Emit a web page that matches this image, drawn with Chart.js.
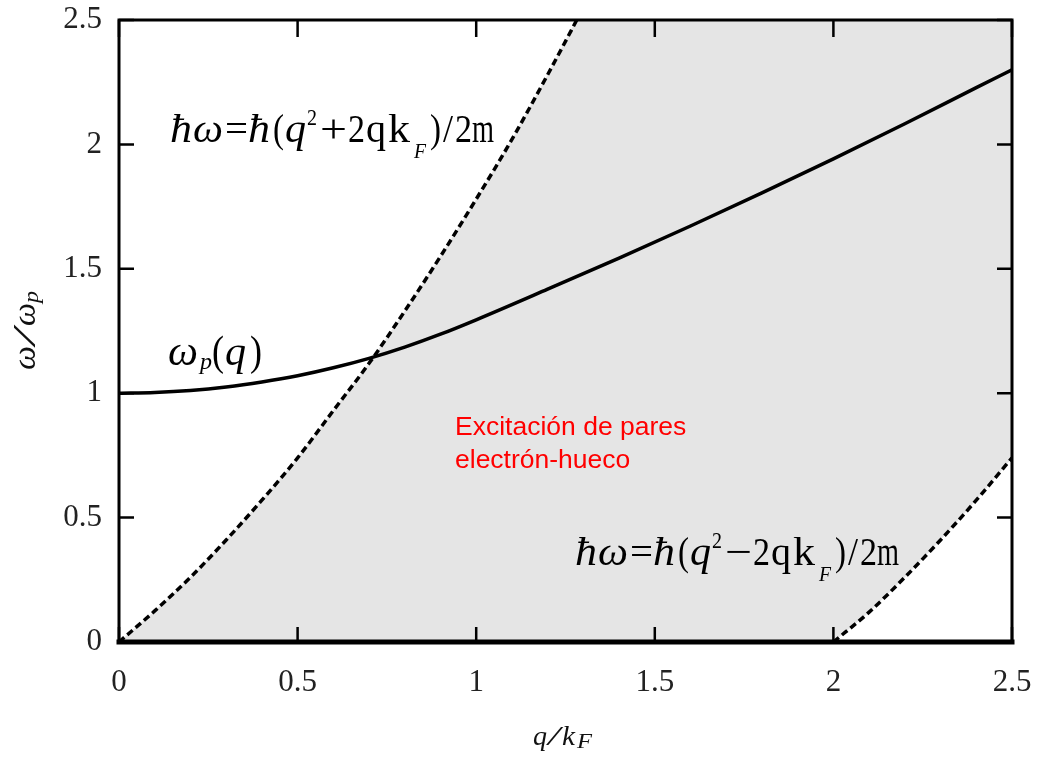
<!DOCTYPE html>
<html>
<head>
<meta charset="utf-8">
<script src="https://cdn.jsdelivr.net/npm/chart.js@4/dist/chart.umd.min.js"></script>
<style>
  html, body { margin: 0; padding: 0; background: #fff; }
  #wrap { width: 1037px; height: 762px; }
</style>
</head>
<body>
<div id="wrap"><canvas id="c"></canvas></div>
<script>
// Pair-excitation boundary ħω = ħ(q² + 2qk_F)/2m
const upperQ = [0, 0.1, 0.2, 0.3, 0.4, 0.5, 0.6, 0.7, 0.8, 0.9, 1.0, 1.1, 1.2, 1.3];
const upperW = [0, 0.125, 0.26, 0.41, 0.57, 0.74, 0.93, 1.12, 1.33, 1.55, 1.78, 2.02, 2.28, 2.55];

// Pair-excitation boundary ħω = ħ(q² − 2qk_F)/2m
const lowerQ = [2.0, 2.1, 2.2, 2.3, 2.4, 2.5];
const lowerW = [0, 0.12, 0.26, 0.41, 0.57, 0.74];

// Plasmon dispersion ω_p(q)
const plasmonQ = [0, 0.1, 0.2, 0.3, 0.4, 0.5, 0.6, 0.7, 0.8, 0.9, 1.0, 1.2, 1.4, 1.6, 1.8, 2.0, 2.2, 2.4, 2.5];
const plasmonW = [1.0, 1.003, 1.011, 1.025, 1.045, 1.070, 1.102, 1.140, 1.185, 1.237, 1.295, 1.418, 1.543, 1.672, 1.805, 1.942, 2.083, 2.228, 2.30];

// Electron-hole continuum (shaded band), top and bottom edges on one grid
const shadeQ      = [0, 0.1, 0.2, 0.3, 0.4, 0.5, 0.6, 0.7, 0.8, 0.9, 1.0, 1.1, 1.2, 1.28, 1.5, 2.0, 2.1, 2.2, 2.3, 2.4, 2.5];
const shadeTop    = [0, 0.125, 0.26, 0.41, 0.57, 0.74, 0.93, 1.12, 1.33, 1.55, 1.78, 2.02, 2.28, 2.5, 2.5, 2.5, 2.5, 2.5, 2.5, 2.5, 2.5];
const shadeBottom = [0, 0, 0, 0, 0, 0, 0, 0, 0, 0, 0, 0, 0, 0, 0, 0, 0.12, 0.26, 0.41, 0.57, 0.74];

// Axis ticks
const xTickLabels = ['0', '0.5', '1', '1.5', '2', '2.5'];
const yTickLabels = ['0', '0.5', '1', '1.5', '2', '2.5'];

const pts = (xs, ys) => xs.map((x, i) => ({ x, y: ys[i] }));

const SERIF = '"Liberation Serif", "Times New Roman", serif';

// Draw a row of glyph runs, each squeezed to its own width
function drawRuns(ctx, ox, oy, runs, baseSize) {
  ctx.textBaseline = 'alphabetic';
  ctx.textAlign = 'left';
  for (const r of runs) {
    const size = r.size || baseSize;
    ctx.font = (r.it ? 'italic ' : '') + size + 'px ' + SERIF;
    const m = ctx.measureText(r.t).width;
    const sx = r.w ? r.w / m : 1;
    ctx.save();
    ctx.translate(ox + r.x, oy + (r.dy || 0));
    ctx.scale(sx, 1);
    ctx.fillText(r.t, 0, 0);
    ctx.restore();
  }
}

function eqRuns(sign) {
  return [
    { t: 'ħ', x: 0, w: 22, it: true },
    { t: 'ω', x: 23, w: 30, it: true },
    { t: '=', x: 55, w: 23 },
    { t: 'ħ', x: 78, w: 22, it: true },
    { t: '(', x: 103, w: 11 },
    { t: 'q', x: 115, w: 21, it: true },
    { t: '2', x: 137, w: 10, size: 24, dy: -17 },
    { t: sign, x: 150, w: 27 },
    { t: '2', x: 178, w: 17 },
    { t: 'q', x: 196, w: 20 },
    { t: 'k', x: 218, w: 22 },
    { t: 'F', x: 244, w: 12, size: 20, dy: 16, it: true },
    { t: ')', x: 260, w: 11 },
    { t: '/', x: 273, w: 10 },
    { t: '2', x: 285, w: 17 },
    { t: 'm', x: 302, w: 22 }
  ];
}

const framePlugin = {
  id: 'frame',
  afterDatasetsDraw(chart) {
    const { ctx, chartArea: a, scales: { x, y } } = chart;
    ctx.save();
    ctx.strokeStyle = '#000';
    ctx.lineWidth = 2.5;
    const tl = 15;
    ctx.beginPath();
    x.ticks.forEach(t => {
      const px = x.getPixelForValue(t.value);
      ctx.moveTo(px, a.bottom); ctx.lineTo(px, a.bottom - tl);
      ctx.moveTo(px, a.top); ctx.lineTo(px, a.top + tl + 2);
    });
    y.ticks.forEach(t => {
      const py = y.getPixelForValue(t.value);
      ctx.moveTo(a.left, py); ctx.lineTo(a.left + tl, py);
      ctx.moveTo(a.right, py); ctx.lineTo(a.right - tl, py);
    });
    ctx.stroke();
    // frame
    ctx.lineCap = 'square';
    ctx.lineWidth = 3;
    ctx.beginPath();
    ctx.moveTo(a.left, a.top); ctx.lineTo(a.right, a.top);
    ctx.moveTo(a.left, a.top); ctx.lineTo(a.left, a.bottom);
    ctx.moveTo(a.right, a.top); ctx.lineTo(a.right, a.bottom);
    ctx.stroke();
    ctx.lineWidth = 5;
    ctx.beginPath();
    ctx.moveTo(a.left, a.bottom); ctx.lineTo(a.right, a.bottom);
    ctx.stroke();
    ctx.restore();
  },
  afterDraw(chart) {
    const { ctx } = chart;
    ctx.save();
    ctx.fillStyle = '#000';
    drawRuns(ctx, 170, 142, eqRuns('+'), 40);
    drawRuns(ctx, 575, 565, eqRuns('−'), 40);
    drawRuns(ctx, 168, 365, [
      { t: 'ω', x: 0, w: 30, it: true },
      { t: 'p', x: 32, w: 12, it: true, size: 24, dy: 4 },
      { t: '(', x: 44, w: 12 },
      { t: 'q', x: 57, w: 21, it: true },
      { t: ')', x: 82, w: 12 }
    ], 42);

    // continuum label
    ctx.fillStyle = '#ff0000';
    ctx.font = '26.5px "Liberation Sans", Arial, sans-serif';
    ctx.textBaseline = 'alphabetic';
    ctx.textAlign = 'left';
    ctx.fillText('Excitación de pares', 455, 435);
    ctx.fillText('electrón-hueco', 455, 468);

    // axis titles
    ctx.fillStyle = '#111';
    drawRuns(ctx, 533, 745, [
      { t: 'q', x: 0, w: 14, it: true },
      { t: '/', x: 15, w: 12, it: true },
      { t: 'k', x: 29, w: 13, it: true },
      { t: 'F', x: 44, w: 15, it: true, size: 20, dy: 3 }
    ], 28);
    ctx.save();
    ctx.translate(35, 370);
    ctx.rotate(-Math.PI / 2);
    drawRuns(ctx, 0, 0, [
      { t: 'ω', x: 0, w: 24, it: true },
      { t: '/', x: 25, w: 16, it: true },
      { t: 'ω', x: 44, w: 23, it: true },
      { t: 'p', x: 67, w: 12, it: true, size: 22, dy: 3 }
    ], 32);
    ctx.restore();
    ctx.restore();
  }
};

new Chart(document.getElementById('c'), {
  type: 'line',
  data: {
    datasets: [
      {
        data: pts(shadeQ, shadeTop),
        borderWidth: 0, borderColor: 'rgba(0,0,0,0)',
        backgroundColor: '#e5e5e5',
        fill: '+1', pointRadius: 0, tension: 0
      },
      {
        data: pts(shadeQ, shadeBottom),
        borderWidth: 0, borderColor: 'rgba(0,0,0,0)',
        fill: false, pointRadius: 0, tension: 0
      },
      {
        data: pts(upperQ, upperW),
        borderColor: '#000', borderWidth: 3.5, borderDash: [7, 4],
        fill: false, pointRadius: 0, cubicInterpolationMode: 'monotone'
      },
      {
        data: pts(lowerQ, lowerW),
        borderColor: '#000', borderWidth: 3.5, borderDash: [7, 4],
        fill: false, pointRadius: 0, cubicInterpolationMode: 'monotone'
      },
      {
        data: pts(plasmonQ, plasmonW),
        borderColor: '#000', borderWidth: 3.5,
        fill: false, pointRadius: 0, cubicInterpolationMode: 'monotone'
      }
    ]
  },
  options: {
    responsive: true,
    maintainAspectRatio: false,
    animation: false,
    devicePixelRatio: 1,
    layout: { padding: { top: 20, right: 25, left: 0, bottom: 0 } },
    plugins: {
      legend: { display: false },
      tooltip: { enabled: false },
      filler: { drawTime: 'beforeDatasetsDraw' }
    },
    scales: {
      x: {
        type: 'linear', min: 0, max: 2.5,
        grid: { display: false, drawTicks: false },
        border: { display: false },
        ticks: {
          stepSize: 0.5, padding: 22, color: '#222',
          font: { family: SERIF, size: 31 },
          maxRotation: 0,
          callback: (v, i) => xTickLabels[i]
        },
        afterFit: s => { s.height = 120; s.paddingLeft = 0; s.paddingRight = 0; }
      },
      y: {
        type: 'linear', min: 0, max: 2.5,
        grid: { display: false, drawTicks: false },
        border: { display: false },
        ticks: {
          stepSize: 0.5, padding: 17, color: '#222',
          font: { family: SERIF, size: 31 },
          callback: (v, i) => yTickLabels[i]
        },
        afterFit: s => { s.width = 119; s.paddingTop = 0; s.paddingBottom = 0; }
      }
    }
  },
  plugins: [framePlugin]
});
</script>
</body>
</html>
